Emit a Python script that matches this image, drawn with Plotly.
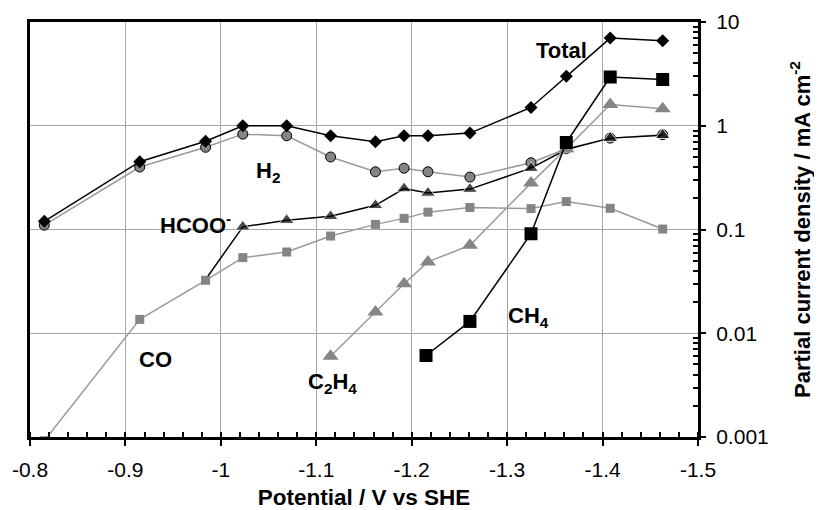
import numpy as np
import plotly.graph_objects as go

# ---- data ----
potential = [-0.815, -0.915, -0.984, -1.023, -1.069, -1.115, -1.162, -1.192,
             -1.217, -1.261, -1.325, -1.362, -1.408, -1.463]
total = [0.12, 0.45, 0.71, 1.0, 1.0, 0.80, 0.70, 0.80, 0.80, 0.85, 1.50, 3.0, 7.0, 6.6]
h2 = [0.11, 0.40, 0.62, 0.83, 0.80, 0.50, 0.36, 0.39, 0.36, 0.32, 0.44, 0.60, 0.76, 0.82]
co = [0.00092, 0.0136, 0.0324, 0.0536, 0.0607, 0.0865, 0.112, 0.128, 0.147, 0.163,
      0.159, 0.186, 0.16, 0.101]

potential_hcoo = [-0.984, -1.023, -1.069, -1.115, -1.162, -1.192, -1.217, -1.261,
                  -1.325, -1.362, -1.408, -1.463]
hcoo = [0.033, 0.106, 0.123, 0.134, 0.171, 0.248, 0.225, 0.245, 0.39, 0.59, 0.76, 0.81]

potential_c2h4 = [-1.115, -1.162, -1.192, -1.217, -1.261, -1.325, -1.362, -1.408, -1.463]
c2h4 = [0.006, 0.016, 0.030, 0.0487, 0.0705, 0.28, 0.60, 1.6, 1.46]

potential_ch4 = [-1.215, -1.261, -1.325, -1.362, -1.408, -1.463]
ch4 = [0.0061, 0.013, 0.091, 0.69, 2.95, 2.79]

x_ticks = [-0.8, -0.9, -1.0, -1.1, -1.2, -1.3, -1.4, -1.5]
x_ticklabels = ["-0.8", "-0.9", "-1", "-1.1", "-1.2", "-1.3", "-1.4", "-1.5"]
y_ticks = [0.001, 0.01, 0.1, 1, 10]
y_ticklabels = ["0.001", "0.01", "0.1", "1", "10"]

# labels: (text, potential, log10 current)
labels = [
    ("Total", -1.357, 0.727),
    ("H<sub>2</sub>", -1.049, -0.449),
    ("HCOO<sup>-</sup>", -0.973, -0.950),
    ("CO", -0.932, -2.251),
    ("C<sub>2</sub>H<sub>4</sub>", -1.117, -2.483),
    ("CH<sub>4</sub>", -1.322, -1.846),
]

GRAY_M = "#858585"
GRAY_L = "#9a9a9a"
FONT = "Liberation Sans, Arial, sans-serif"

fig = go.Figure()
fig.add_trace(go.Scatter(x=potential, y=h2, mode="lines+markers", name="H2",
                         line=dict(color=GRAY_L, width=1.5),
                         marker=dict(symbol="circle", size=10, color=GRAY_M,
                                     line=dict(color="black", width=1))))
fig.add_trace(go.Scatter(x=potential_hcoo, y=hcoo, mode="lines+markers", name="HCOO-",
                         line=dict(color="black", width=1.5),
                         marker=dict(symbol="triangle-up",
                                     size=[0] + [13] * (len(hcoo) - 1), color="black")))
fig.add_trace(go.Scatter(x=potential, y=co, mode="lines+markers", name="CO",
                         line=dict(color=GRAY_L, width=1.5),
                         marker=dict(symbol="square", size=9, color=GRAY_M)))
fig.add_trace(go.Scatter(x=potential_c2h4, y=c2h4, mode="lines+markers", name="C2H4",
                         line=dict(color=GRAY_L, width=1.5),
                         marker=dict(symbol="triangle-up", size=14, color=GRAY_M)))
fig.add_trace(go.Scatter(x=potential, y=total, mode="lines+markers", name="Total",
                         line=dict(color="black", width=1.5),
                         marker=dict(symbol="diamond", size=10, color="black")))
fig.add_trace(go.Scatter(x=potential_ch4, y=ch4, mode="lines+markers", name="CH4",
                         line=dict(color="black", width=1.5),
                         marker=dict(symbol="square", size=13, color="black")))

for text, xv, yv in labels:
    fig.add_annotation(x=xv, y=yv, xref="x", yref="y", text=f"<b>{text}</b>",
                       showarrow=False, font=dict(family=FONT, size=22, color="black"))

x_minor = [round(v, 2) for v in np.arange(-0.8, -1.5001, -0.02)]
y_minor = [m * 10.0 ** e for e in range(-3, 1) for m in range(2, 10)]

fig.update_layout(
    width=822, height=510,
    margin=dict(l=22, r=132, t=14, b=81),
    paper_bgcolor="white", plot_bgcolor="white",
    showlegend=False,
    font=dict(family=FONT, color="black"),
    xaxis=dict(
        automargin=False,
        range=[-0.8, -1.5], tickmode="array", tickvals=x_ticks, ticktext=x_ticklabels,
        showgrid=True, gridcolor="#a6a6a6", gridwidth=1, zeroline=False,
        showline=True, linecolor="black", linewidth=3, mirror=True,
        ticks="outside", ticklen=6, tickwidth=1.5, tickcolor="black",
        ticklabelstandoff=6,
        tickfont=dict(size=21, family=FONT),
        minor=dict(tickmode="array", tickvals=x_minor, ticks="inside", ticklen=5,
                   tickwidth=1.5, tickcolor="black", showgrid=False),
        title=dict(text="<b>Potential / V vs SHE</b>", font=dict(size=22.5, family=FONT),
                   standoff=10),
    ),
    yaxis=dict(
        automargin=False,
        type="log", range=[-3, 1], side="right",
        tickmode="array", tickvals=y_ticks, ticktext=y_ticklabels,
        showgrid=True, gridcolor="#a6a6a6", gridwidth=1, zeroline=False,
        showline=True, linecolor="black", linewidth=3, mirror=True,
        ticks="outside", ticklen=5, tickwidth=1.5, tickcolor="black",
        ticklabelstandoff=6,
        tickfont=dict(size=21, family=FONT),
        minor=dict(tickmode="array", tickvals=y_minor, ticks="inside", ticklen=5,
                   tickwidth=1.5, tickcolor="black", showgrid=False),
        title=dict(text="<b>Partial current density / mA cm<sup>-2</sup></b>",
                   font=dict(size=22, family=FONT), standoff=27),
    ),
)

fig.write_html("out.html")
